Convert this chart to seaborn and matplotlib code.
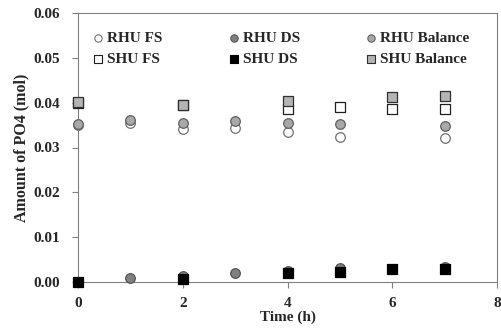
import matplotlib
matplotlib.use("Agg")
import matplotlib.pyplot as plt
import seaborn as sns
import pandas as pd

# ---- data ----
rhu_time = [0, 1, 2, 3, 4, 5, 7]
rhu_fs = [0.0350, 0.0355, 0.0341, 0.0343, 0.0334, 0.0324, 0.0321]
rhu_ds = [0.0000, 0.0008, 0.0013, 0.0021, 0.0025, 0.0031, 0.0034]
rhu_bal = [0.0352, 0.0361, 0.0354, 0.0360, 0.0355, 0.0352, 0.0349]

shu_time = [0, 2, 4, 5, 6, 7]
shu_fs = [0.0400, 0.0395, 0.0385, 0.0391, 0.0385, 0.0385]
shu_ds = [0.0000, 0.0006, 0.0019, 0.0023, 0.0028, 0.0028]
shu_bal_time = [0, 2, 4, 6, 7]
shu_bal = [0.0401, 0.0395, 0.0404, 0.0413, 0.0415]

x_ticks = [0, 2, 4, 6, 8]
y_ticks = [0.00, 0.01, 0.02, 0.03, 0.04, 0.05, 0.06]

sns.set_style("white")
plt.rcParams["font.family"] = ["Liberation Serif", "DejaVu Serif"]
plt.rcParams["font.weight"] = "bold"

FS = 11

fig = plt.figure(figsize=(5.01, 3.28), dpi=100)
ax = fig.add_axes([78 / 501, 46 / 328, 419 / 501, 269 / 328])

series = [
    ("RHU FS", rhu_time, rhu_fs, dict(marker="o", facecolor="white", edgecolor="#707070")),
    ("SHU FS", shu_time, shu_fs, dict(marker="s", facecolor="white", edgecolor="#202020")),
    ("RHU DS", rhu_time, rhu_ds, dict(marker="o", facecolor="#808080", edgecolor="#555555")),
    ("SHU DS", shu_time, shu_ds, dict(marker="s", facecolor="black", edgecolor="black")),
    ("RHU Balance", rhu_time, rhu_bal, dict(marker="o", facecolor="#a8a8a8", edgecolor="#606060")),
    ("SHU Balance", shu_bal_time, shu_bal, dict(marker="s", facecolor="#b4b4b4", edgecolor="#303030")),
]

draw_order = ["RHU FS", "SHU FS", "RHU Balance", "SHU Balance", "RHU DS", "SHU DS"]
lookup = {s[0]: s for s in series}
for name in draw_order:
    _, t, v, st = lookup[name]
    df = pd.DataFrame({"Time": t, "Value": v})
    sns.scatterplot(data=df, x="Time", y="Value", ax=ax, s=48, linewidth=0.9,
                    marker=st["marker"], color=st["facecolor"],
                    edgecolor=st["edgecolor"], legend=False, zorder=3, clip_on=False)

handles = []
for name, _, _, st in series:
    h = ax.scatter([], [], marker=st["marker"], s=28, facecolor=st["facecolor"],
                   edgecolor=st["edgecolor"], linewidth=0.8)
    handles.append(h)
labels = [s[0] for s in series]
leg = ax.legend(handles, labels, ncol=3, loc="upper left", bbox_to_anchor=(0.032, 0.933),
                frameon=False, fontsize=FS, handletextpad=0.15, columnspacing=4.2,
                labelspacing=0.52, handlelength=0.9, borderaxespad=0, borderpad=0)
for t in leg.get_texts():
    t.set_fontweight("bold")

ax.set_xlim(0, 8)
ax.set_ylim(0, 0.06)
ax.set_xticks(x_ticks)
ax.set_yticks(y_ticks)
ax.set_yticklabels([f"{v:.2f}" for v in y_ticks])
ax.tick_params(axis="y", direction="out", length=4, width=0.8, color="#808080",
               labelsize=FS, pad=9, left=True)
ax.tick_params(axis="x", direction="out", length=4, width=0.8, color="#808080",
               labelsize=FS, pad=7, bottom=True)
for lab in ax.get_xticklabels() + ax.get_yticklabels():
    lab.set_fontweight("bold")
for sp in ax.spines.values():
    sp.set_color("#808080")
    sp.set_linewidth(0.8)
    sp.set_visible(True)

ax.set_xlabel("Time (h)", fontsize=FS, fontweight="bold", labelpad=0)
ax.set_ylabel("Amount of PO4 (mol)", fontsize=FS + 0.5, fontweight="bold", labelpad=3)

fig.savefig("out.png", dpi=100)
